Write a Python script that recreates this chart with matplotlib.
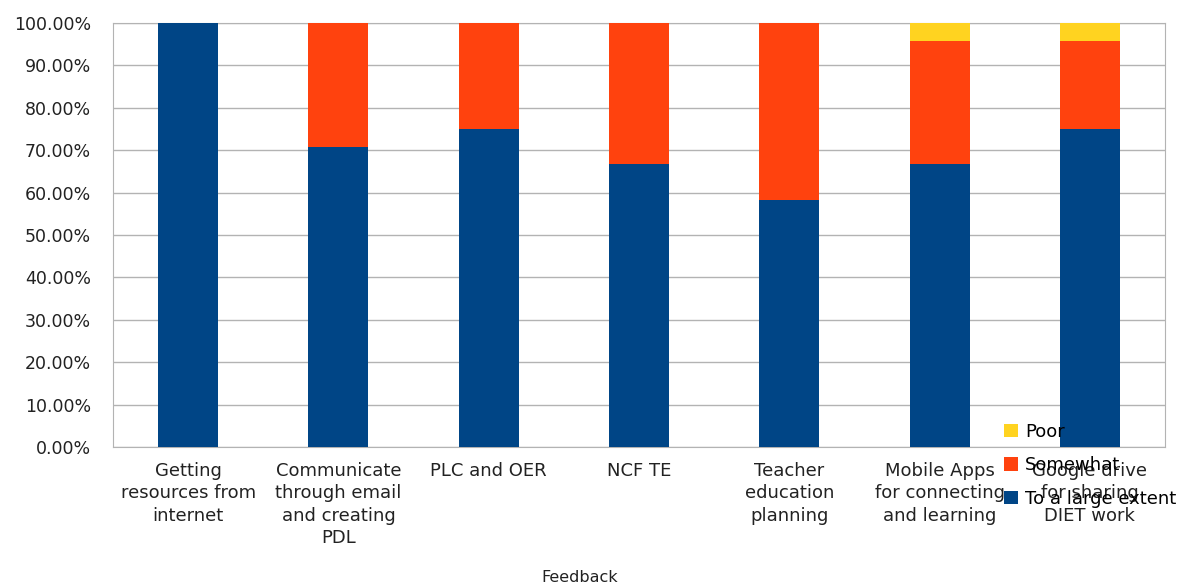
import matplotlib.pyplot as plt
import numpy as np
from matplotlib.ticker import PercentFormatter

plt.rcParams['font.family'] = ['DejaVu Sans']

categories = [
    'Getting\nresources from\ninternet',
    'Communicate\nthrough email\nand creating\nPDL',
    'PLC and OER',
    'NCF TE',
    'Teacher\neducation\nplanning',
    'Mobile Apps\nfor connecting\nand learning',
    'Google drive\nfor sharing\nDIET work',
]
large_extent = [100.0, 70.83, 75.0, 66.67, 58.33, 66.67, 75.0]
somewhat = [0.0, 29.17, 25.0, 33.33, 41.67, 29.17, 20.83]
poor = [0.0, 0.0, 0.0, 0.0, 0.0, 4.17, 4.17]

colors = {'large': '#004586', 'somewhat': '#ff420e', 'poor': '#ffd320'}

fig = plt.figure(figsize=(11.82, 5.84), dpi=100)
ax = fig.add_axes([113 / 1182, 1 - 447 / 584, (1165 - 113) / 1182, (447 - 23) / 584])

x = np.arange(len(categories))
w = 0.4
b1 = ax.bar(x, large_extent, w, color=colors['large'], label='To a large extent', zorder=3)
b2 = ax.bar(x, somewhat, w, bottom=large_extent, color=colors['somewhat'], label='Somewhat', zorder=3)
bottom2 = np.array(large_extent) + np.array(somewhat)
b3 = ax.bar(x, poor, w, bottom=bottom2, color=colors['poor'], label='Poor', zorder=3)

ax.set_xlim(-0.5, len(categories) - 0.5)
ax.set_ylim(0, 100)
ax.set_yticks(np.arange(0, 101, 10))
ax.yaxis.set_major_formatter(PercentFormatter(decimals=2))
ax.grid(axis='y', color='#b3b3b3', linewidth=1, zorder=0)
for s in ax.spines.values():
    s.set_color('#b3b3b3')
ax.tick_params(axis='both', length=0, labelsize=12.5, colors='#222222')
ax.tick_params(axis='y', pad=16)
ax.tick_params(axis='x', pad=11)
ax.set_xticks(x)
ax.set_xticklabels(categories, linespacing=1.3, fontsize=13)

fig.text(580 / 1182, 1 - 577 / 584, 'Feedback', ha='center', va='center', fontsize=11.5, color='#222222')

fig.legend([b3, b2, b1], ['Poor', 'Somewhat', 'To a large extent'],
           loc='upper left', bbox_to_anchor=(995 / 1182, 1 - 414 / 584),
           frameon=False, fontsize=13, handlelength=0.75, handleheight=0.75,
           handletextpad=0.4, labelspacing=0.85, borderpad=0)

fig.savefig('out.png', dpi=100)
